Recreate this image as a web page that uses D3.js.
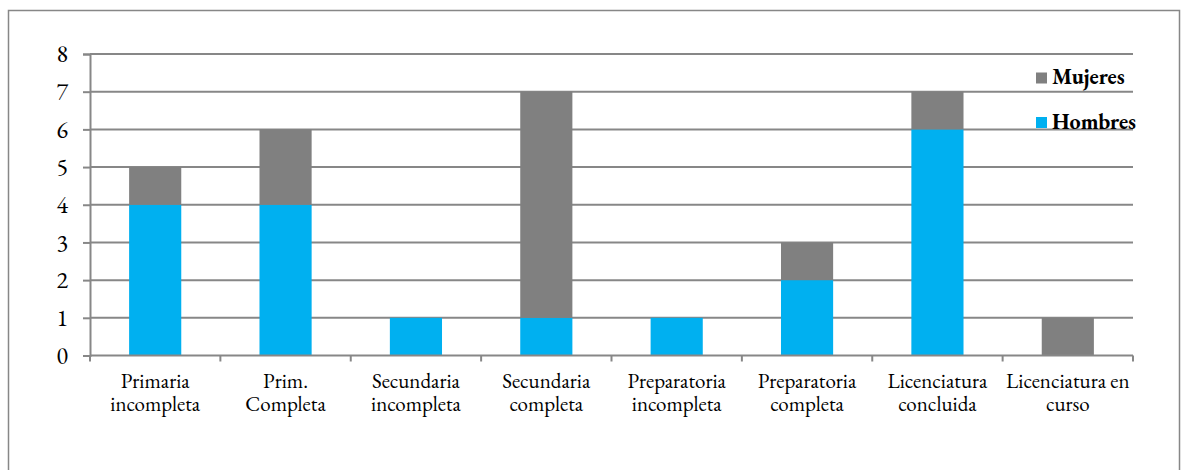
<!DOCTYPE html>
<html>
<head>
<meta charset="utf-8">
<script src="https://cdn.jsdelivr.net/npm/d3@7"></script>
<style>
  html, body { margin: 0; padding: 0; background: #fff; }
  svg { display: block; }
</style>
</head>
<body>
<svg id="chart" width="1182" height="470"></svg>
<script>
// Education level categories (two-line labels)
const categories = [
  ["Primaria", "incompleta"],
  ["Prim.", "Completa"],
  ["Secundaria", "incompleta"],
  ["Secundaria", "completa"],
  ["Preparatoria", "incompleta"],
  ["Preparatoria", "completa"],
  ["Licenciatura", "concluida"],
  ["Licenciatura en", "curso"]
];
const hombres = [4, 4, 1, 1, 1, 2, 6, 0];
const mujeres = [1, 2, 0, 6, 0, 1, 1, 1];
const yTicks = [0, 1, 2, 3, 4, 5, 6, 7, 8];
const seriesNames = ["Hombres", "Mujeres"];
const seriesColors = ["#00B0F0", "#808080"];

const FONT = "'EB Garamond', 'Liberation Serif', serif";
const svg = d3.select("#chart");
const gridColor = "#878787";

// Outer chart frame
svg.append("rect")
  .attr("x", 8.5).attr("y", 10.5)
  .attr("width", 1171).attr("height", 480)
  .attr("fill", "none").attr("stroke", gridColor).attr("stroke-width", 1.5);

const plotLeft = 90, plotRight = 1133, plotTop = 54, plotBottom = 355.5;
const keys = categories.map((c, i) => i);

const x = d3.scaleBand().domain(keys).range([plotLeft, plotRight]).paddingInner(0.6).paddingOuter(0.3);
const xCat = d3.scaleBand().domain(keys).range([plotLeft, plotRight]);
const y = d3.scaleLinear().domain([0, 8]).range([plotBottom, plotTop]);

// Horizontal gridlines
svg.append("g").selectAll("line").data(yTicks.filter(t => t > 0)).join("line")
  .attr("x1", plotLeft).attr("x2", plotRight)
  .attr("y1", d => y(d)).attr("y2", d => y(d))
  .attr("stroke", gridColor).attr("stroke-width", 2);

// Stacked bars
const rows = keys.map(i => ({ i, Hombres: hombres[i], Mujeres: mujeres[i] }));
const stacked = d3.stack().keys(seriesNames)(rows);
svg.append("g").selectAll("g").data(stacked).join("g")
  .attr("fill", (d, k) => seriesColors[k])
  .selectAll("rect").data(d => d).join("rect")
  .attr("x", d => x(d.data.i))
  .attr("width", x.bandwidth())
  .attr("y", d => y(d[1]))
  .attr("height", d => y(d[0]) - y(d[1]));

// Y axis
const yAxis = svg.append("g").attr("transform", `translate(${plotLeft},0)`)
  .call(d3.axisLeft(y).tickValues(yTicks).tickSize(7).tickPadding(15).tickFormat(d3.format("d")));
yAxis.attr("font-family", null).attr("font-size", null);
yAxis.select(".domain").attr("stroke", gridColor).attr("stroke-width", 2);
yAxis.selectAll(".tick line").attr("stroke", gridColor).attr("stroke-width", 2);
yAxis.selectAll(".tick text")
  .style("font-family", FONT).style("font-size", "24px").attr("fill", "#000");

// X axis with ticks at category boundaries
const xAxis = svg.append("g").attr("transform", `translate(0,${plotBottom})`);
xAxis.append("line").attr("x1", plotLeft).attr("x2", plotRight)
  .attr("stroke", gridColor).attr("stroke-width", 2);
const bounds = keys.map(i => xCat(i)).concat([plotRight]);
xAxis.selectAll("line.tk").data(bounds).join("line").attr("class", "tk")
  .attr("x1", d => d).attr("x2", d => d).attr("y1", 0).attr("y2", 6)
  .attr("stroke", gridColor).attr("stroke-width", 2);
const labels = xAxis.selectAll("text.lbl").data(categories).join("text").attr("class", "lbl")
  .attr("text-anchor", "middle")
  .style("font-family", FONT).style("font-size", "21px").attr("fill", "#000")
  .attr("x", (d, i) => xCat(i) + xCat.bandwidth() / 2);
labels.selectAll("tspan").data(d => d).join("tspan")
  .attr("x", function() { return d3.select(this.parentNode).attr("x"); })
  .attr("y", (d, j) => 32.5 + j * 22.5)
  .text(d => d);

// Legend
const legendItems = [
  { name: "Mujeres", color: seriesColors[1], y: 78 },
  { name: "Hombres", color: seriesColors[0], y: 122.5 }
];
const lg = svg.append("g").selectAll("g").data(legendItems).join("g");
lg.append("rect").attr("x", 1036).attr("y", d => d.y - 5.5)
  .attr("width", 11).attr("height", 11).attr("fill", d => d.color);
lg.append("text").attr("x", 1052).attr("y", d => d.y + 6)
  .style("font-family", FONT).style("font-size", "22px").style("font-weight", "bold")
  .attr("fill", "#000").text(d => d.name);
</script>
</body>
</html>
